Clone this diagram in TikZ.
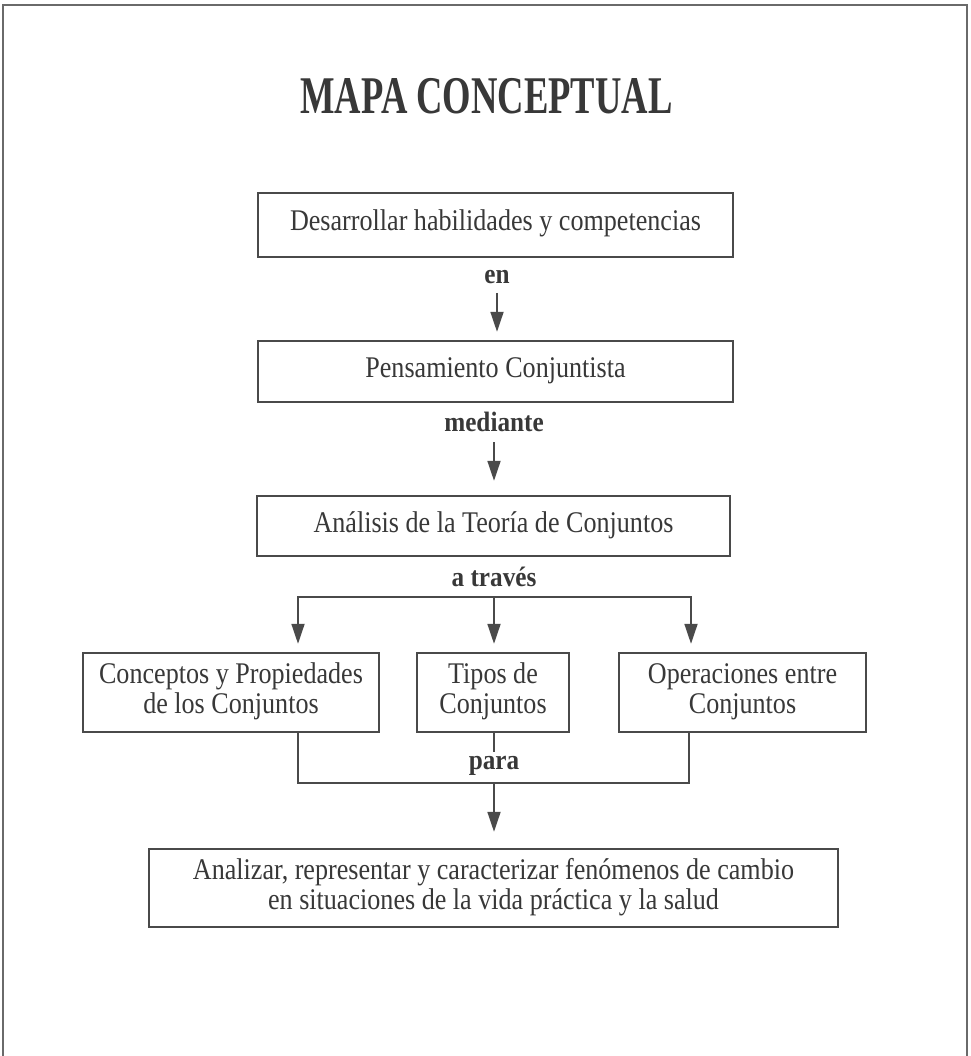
\documentclass[tikz,border=0pt]{standalone}
\usepackage{fontspec}
\setmainfont{Liberation Serif}
\usepackage{graphicx}
\usetikzlibrary{arrows.meta}
\definecolor{ink}{HTML}{383838}
\definecolor{rulec}{HTML}{4A4A4A}
\definecolor{framec}{HTML}{6A6A6A}
\newcommand{\bxt}[1]{\scalebox{0.87}[1]{\begin{tabular}{@{}c@{}}#1\end{tabular}}}
\newcommand{\lbt}[1]{\scalebox{0.9}[1]{#1}}
\begin{document}
\begin{tikzpicture}[x=1pt, y=-1pt,
  box/.style={draw=rulec, line width=2.4pt, inner sep=0pt, text=ink,
    font=\fontsize{30}{30}\selectfont},
  lbl/.style={inner sep=0pt, text=ink, font=\fontsize{28}{30}\selectfont\bfseries},
  conn/.style={draw=rulec, line width=1.8pt},
  arr/.style={conn, -{Triangle[length=20pt,width=13pt]}},
  framestyle/.style={draw=framec, line width=2.5pt}
]
\useasboundingbox (0,0) rectangle (970,1056);
\fill[white] (0,0) rectangle (970,1056);
\draw[framestyle] (3,1060) -- (3,5) -- (967,5) -- (967,1060);

\node[inner sep=0pt, text=ink, font=\fontsize{53}{60}\selectfont\bfseries] (title) at (486.5,96.5)
  {\scalebox{0.69}[1]{MAPA CONCEPTUAL}};

\node[box, minimum width=475pt, minimum height=64pt] (b1) at (495.5,225)
  {\bxt{Desarrollar habilidades y competencias}};
\node[lbl] (l1) at (497,277) {\lbt{en}};
\node[box, minimum width=475pt, minimum height=61pt] (b2) at (495.5,371.5)
  {\bxt{Pensamiento Conjuntista}};
\node[lbl] (l2) at (494,422) {\lbt{mediante}};
\node[box, minimum width=473pt, minimum height=60pt] (b3) at (493.5,526)
  {\bxt{Análisis de la Teoría de Conjuntos}};
\node[lbl] (l3) at (494,577) {\lbt{a través}};

\node[box, minimum width=296pt, minimum height=79pt] (b4a) at (231,692.5)
  {\bxt{Conceptos y Propiedades\\de los Conjuntos}};
\node[box, minimum width=152pt, minimum height=79pt] (b4b) at (493,692.5)
  {\bxt{Tipos de\\Conjuntos}};
\node[box, minimum width=247pt, minimum height=79pt] (b4c) at (742.5,692.5)
  {\bxt{Operaciones entre\\Conjuntos}};
\node[lbl] (l4) at (494,766) {\lbt{para}};
\node[box, minimum width=689pt, minimum height=78pt] (b5) at (493.5,888)
  {\bxt{Analizar, representar y caracterizar fenómenos de cambio\\en situaciones de la vida práctica y la salud}};

% top chain
\draw[arr, shorten <=9pt, shorten >=8pt] (l1.south) -- (l1.south |- b2.north);
\draw[arr, shorten <=10pt, shorten >=14pt] (l2.south) -- (l2.south |- b3.north);

% branching
\coordinate (ja) at (298,597);
\coordinate (jb) at (494,597);
\coordinate (jc) at (691,597);
\draw[conn, line cap=rect] (ja) -- (jc);
\draw[arr, shorten >=8pt] (ja) -- (ja |- b4a.north);
\draw[arr, shorten >=8pt] (jb) -- (jb |- b4b.north);
\draw[arr, shorten >=8pt] (jc) -- (jc |- b4c.north);

% merging
\coordinate (ka) at (298,783);
\coordinate (kb) at (494,783);
\coordinate (kc) at (689,783);
\draw[conn] (ka |- b4a.south) -- (ka) -- (kc) -- (kc |- b4c.south);
\draw[conn] (kb |- b4b.south) -- ++(0,19);
\draw[arr, shorten >=16pt] (kb) -- (kb |- b5.north);
\end{tikzpicture}
\end{document}
